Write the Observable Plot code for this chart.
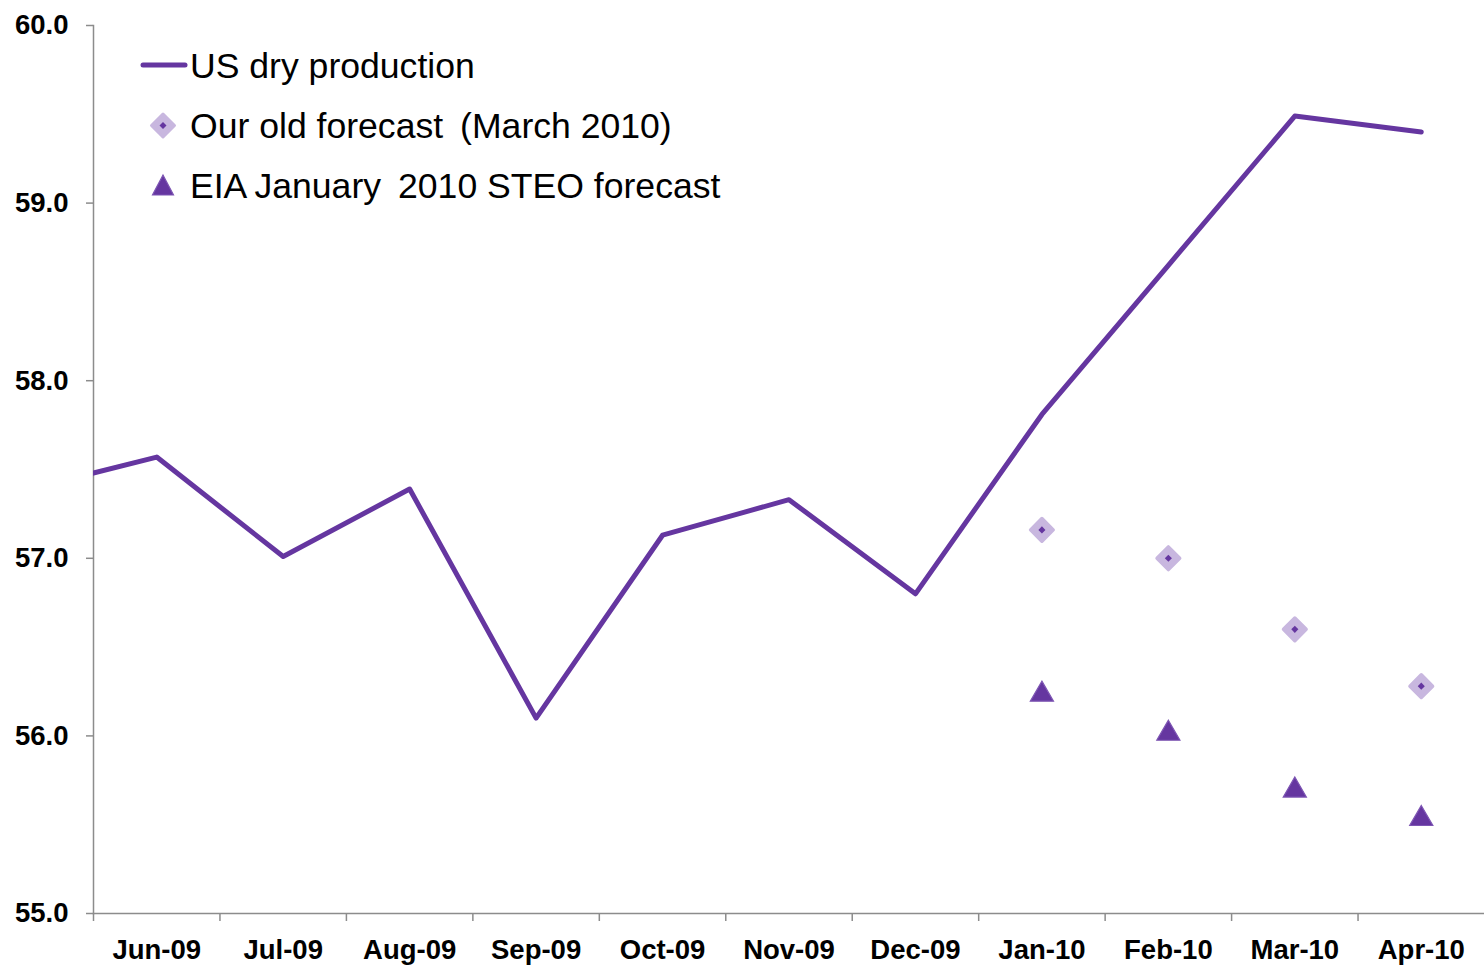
<!DOCTYPE html>
<html>
<head>
<meta charset="utf-8">
<script src="https://cdn.jsdelivr.net/npm/d3@7"></script>
<script src="https://cdn.jsdelivr.net/npm/@observablehq/plot@0.6"></script>
<style>
  html, body { margin: 0; padding: 0; background: #fff; }
  #wrap { position: relative; width: 1484px; height: 973px; font-family: "Liberation Sans", Arial, sans-serif; }
  #legend { position: absolute; left: 138px; top: 36px; font-size: 35.6px; color: #000; }
  .row { display: flex; align-items: center; height: 60px; }
  .sw { width: 52px; height: 30px; display: block; }
</style>
</head>
<body>
<div id="wrap"></div>
<script>
// Categories shown on the x axis
const categories = ["Jun-09","Jul-09","Aug-09","Sep-09","Oct-09","Nov-09","Dec-09","Jan-10","Feb-10","Mar-10","Apr-10"];
// Production series starts one month earlier (clipped at the left edge)
const productionMonths = ["May-09","Jun-09","Jul-09","Aug-09","Sep-09","Oct-09","Nov-09","Dec-09","Jan-10","Feb-10","Mar-10","Apr-10"];
const production = [57.39, 57.57, 57.01, 57.39, 56.10, 57.13, 57.33, 56.80, 57.81, 58.65, 59.49, 59.40];
const forecastMonths = ["Jan-10","Feb-10","Mar-10","Apr-10"];
const oldForecast = [57.16, 57.00, 56.60, 56.28];
const eiaForecast = [56.25, 56.03, 55.71, 55.55];
const yTicks = [55, 56, 57, 58, 59, 60];

const purple = "#6536a0";
const lavender = "#c8b7df";
const axisGray = "#8c8c8c";

const idx = m => categories.indexOf(m) === -1 ? -1 : categories.indexOf(m);
const prodData = productionMonths.map((m, i) => ({i: idx(m), v: production[i]}));
const oldData = forecastMonths.map((m, i) => ({i: idx(m), v: oldForecast[i]}));
const eiaData = forecastMonths.map((m, i) => ({i: idx(m), v: eiaForecast[i]}));
const centers = categories.map((c, i) => i);
const bounds = categories.map((c, i) => i - 0.5);

const chart = Plot.plot({
  width: 1484,
  height: 973,
  marginLeft: 93,
  marginRight: 0,
  marginTop: 25,
  marginBottom: 60,
  style: {fontFamily: "'Liberation Sans', Arial, sans-serif", background: "#fff"},
  x: {type: "linear", domain: [-0.5, categories.length - 0.5]},
  y: {domain: [55, 60]},
  marks: [
    Plot.axisY({ticks: yTicks, tickFormat: d => d.toFixed(1), tickSize: 7, tickPadding: 18,
      stroke: axisGray, fill: "#000", fontSize: 27.5, fontWeight: "bold", label: null, strokeWidth: 1.5}),
    Plot.axisX({ticks: bounds, tickSize: 8, tickFormat: () => "", stroke: axisGray, label: null, strokeWidth: 1.5}),
    Plot.axisX({ticks: centers, tickSize: 0, tickPadding: 26, tickFormat: i => categories[i],
      fill: "#000", fontSize: 27.5, fontWeight: "bold", label: null}),
    Plot.frame({anchor: "left", stroke: axisGray, strokeWidth: 1.5}),
    Plot.frame({anchor: "bottom", stroke: axisGray, strokeWidth: 1.5}),
    Plot.line(prodData, {x: "i", y: "v", stroke: purple, strokeWidth: 5, clip: true}),
    Plot.dot(oldData, {x: "i", y: "v", symbol: "diamond2", r: 10.2, fill: lavender, stroke: lavender, strokeWidth: 3.5, strokeLinejoin: "round"}),
    Plot.dot(oldData, {x: "i", y: "v", symbol: "diamond2", r: 3.2, fill: purple, stroke: "none"}),
    Plot.dot(eiaData, {x: "i", y: "v", symbol: "triangle", r: 8.6, dy: 3, fill: purple, stroke: "#7d55b3", strokeWidth: 1.2})
  ]
});

const wrap = document.getElementById("wrap");
wrap.appendChild(chart);

const legendItems = [
  {label: "US dry production", kind: "line"},
  {label: "Our old forecast\u2009 (March 2010)", kind: "diamond"},
  {label: "EIA\u2009January\u2009 2010 STEO forecast", kind: "triangle"}
];
const legend = document.createElement("div");
legend.id = "legend";
for (const item of legendItems) {
  const row = document.createElement("div");
  row.className = "row";
  let sw;
  if (item.kind === "line") {
    sw = `<svg class="sw" viewBox="0 0 52 30"><line x1="5" y1="14" x2="47" y2="14" stroke="${purple}" stroke-width="5" stroke-linecap="round"/></svg>`;
  } else if (item.kind === "diamond") {
    sw = `<svg class="sw" viewBox="0 0 52 30"><path d="M25,3 L36.5,14.5 L25,26 L13.5,14.5 Z" fill="${lavender}" stroke="${lavender}" stroke-width="3" stroke-linejoin="round"/><path d="M25,11 L28.5,14.5 L25,18 L21.5,14.5 Z" fill="${purple}"/></svg>`;
  } else {
    sw = `<svg class="sw" viewBox="0 0 52 30"><path d="M25,4 L35.5,24 L14.5,24 Z" fill="${purple}" stroke="#7d55b3" stroke-width="1.2"/></svg>`;
  }
  row.innerHTML = sw + `<span>${item.label}</span>`;
  legend.appendChild(row);
}
wrap.appendChild(legend);
</script>
</body>
</html>
